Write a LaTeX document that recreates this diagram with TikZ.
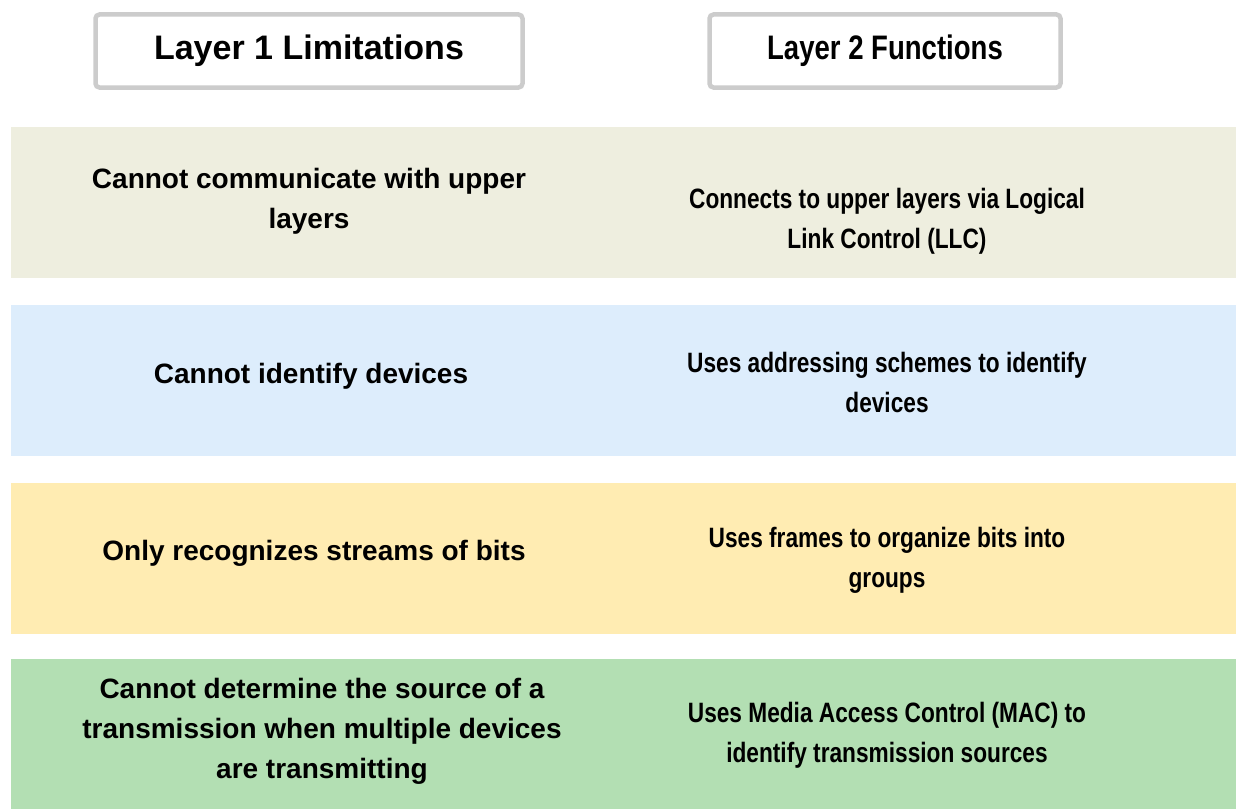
\documentclass[tikz,border=0pt]{standalone}
\usepackage{fontspec}
\setmainfont{Liberation Sans}
\newfontfamily\narrowfont[FakeStretch=0.81, BoldFont={Liberation Sans Bold}, BoldFeatures={FakeStretch=0.81}]{Liberation Sans}
\usepackage{tikz}
\usetikzlibrary{positioning}
\usepackage{xcolor}

\definecolor{bandA}{HTML}{EEEEDF}
\definecolor{bandB}{HTML}{DDEDFC}
\definecolor{bandC}{HTML}{FFECB2}
\definecolor{bandD}{HTML}{B3DFB3}
\definecolor{frame}{HTML}{CCCCCC}

\begin{document}
\begin{tikzpicture}[
    x=1pt, y=-1pt,
    head/.style={rectangle, draw=frame, line width=4.5pt, rounded corners=4pt, fill=white, minimum height=73pt, align=center, font=\fontsize{34}{40}\selectfont\bfseries},
    band/.style={rectangle, draw=none, minimum width=1225pt, minimum height=151pt, inner sep=0pt},
    lefttxt/.style={align=center, inner sep=0pt, font=\fontsize{28}{40}\selectfont\bfseries},
    righttxt/.style={align=center, inner sep=0pt, font=\narrowfont\fontsize{28}{40}\selectfont\bfseries}
]
\useasboundingbox (0,0) rectangle (1236,808);

% Bands
\node[band, fill=bandA] (llc) at (623.5,202.5) {};
\node[band, fill=bandB] (addr) at (623.5,380) {};
\node[band, fill=bandC] (frames) at (623.5,558.5) {};
\node[band, fill=bandD] (mac) at (623.5,734) {};

% Headers
\node[head, minimum width=427pt] (limits) at (309,51) {Layer 1 Limitations};
\node[head, minimum width=351pt] (funcs) at (885,51) {\narrowfont\bfseries Layer 2 Functions};

% Layer 1 texts
\node[lefttxt] (noupper) at (309,201) {Cannot communicate with upper\\layers};
\node[lefttxt] (nodev) at (311,376) {Cannot identify devices};
\node[lefttxt] (bitsonly) at (314,553) {Only recognizes streams of bits};
\node[lefttxt] (nosource) at (322,731) {Cannot determine the source of a\\transmission when multiple devices\\are transmitting};

% Layer 2 texts
\node[righttxt] (upper) at (887,221) {Connects to upper layers via Logical\\Link Control (LLC)};
\node[righttxt] (scheme) at (887,382) {Uses addressing schemes to identify\\devices};
\node[righttxt] (groups) at (887,560) {Uses frames to organize bits into\\groups};
\node[righttxt] (source) at (887,735) {Uses Media Access Control (MAC) to\\identify transmission sources};

\end{tikzpicture}
\end{document}
